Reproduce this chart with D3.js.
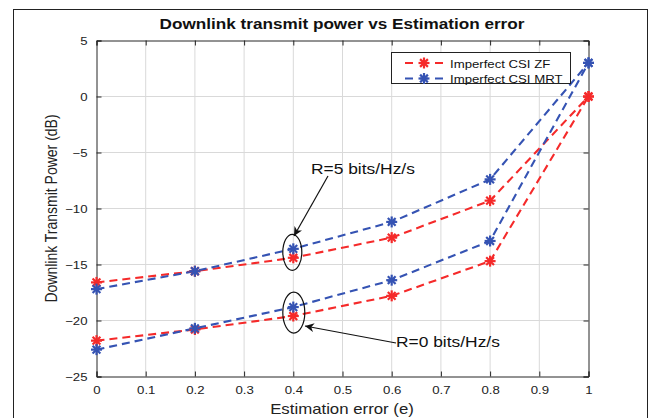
<!DOCTYPE html>
<html>
<head>
<meta charset="utf-8">
<script src="https://cdn.jsdelivr.net/npm/d3@7"></script>
<style>
  body { margin: 0; background: #fff; }
  svg { font-family: "Liberation Sans", Arial, sans-serif; }
</style>
</head>
<body>
<div id="chart"></div>
<script>
// data
const errors = [0, 0.2, 0.4, 0.6, 0.8, 1]
const zfHigh = [-16.6, -15.6, -14.4, -12.6, -9.3, 0]
const mrtHigh = [-17.2, -15.6, -13.6, -11.2, -7.4, 3]
const zfLow = [-21.8, -20.8, -19.6, -17.8, -14.7, 0]
const mrtLow = [-22.6, -20.7, -18.8, -16.4, -12.9, 3]
const xTicks = [0, 0.1, 0.2, 0.3, 0.4, 0.5, 0.6, 0.7, 0.8, 0.9, 1]
const yTicks = [5, 0, -5, -10, -15, -20, -25]

const red = "#f52a2a"
const blue = "#3553b3"
// the source picture is a bit wider than tall, text looks stretched sideways
const sx = 1.2

const width = 650, height = 418
const svg = d3.select("#chart").append("svg").attr("width", width).attr("height", height)

// outer figure frame
svg.append("rect").attr("x", 13.5).attr("y", 9.5).attr("width", 634).attr("height", 430)
  .attr("fill", "none").attr("stroke", "#222").attr("stroke-width", 1)

const x = d3.scaleLinear().domain([0, 1]).range([96.5, 588.5])
const y = d3.scaleLinear().domain([-25, 5]).range([376.5, 40.5])

// grid
const grid = svg.append("g").attr("stroke", "#d9d9d9").attr("stroke-width", 1)
grid.selectAll(".gx").data(xTicks.slice(1, -1)).join("line")
  .attr("x1", d => x(d)).attr("x2", d => x(d)).attr("y1", y(5)).attr("y2", y(-25))
grid.selectAll(".gy").data(yTicks.slice(1, -1)).join("line")
  .attr("y1", d => y(d)).attr("y2", d => y(d)).attr("x1", x(0)).attr("x2", x(1))

// axes, ticks inside like matlab
const axisColor = "#262626"
svg.append("g").attr("transform", `translate(0,${y(-25)})`)
  .call(d3.axisBottom(x).tickValues(xTicks).tickSize(-5).tickPadding(10).tickFormat(d => d3.format("~g")(d)))
svg.append("g").attr("transform", `translate(0,${y(5)})`)
  .call(d3.axisTop(x).tickValues(xTicks).tickSize(-5).tickFormat(""))
svg.append("g").attr("transform", `translate(${x(0)},0)`)
  .call(d3.axisLeft(y).tickValues(yTicks).tickSize(-5).tickPadding(7.5))
svg.append("g").attr("transform", `translate(${x(1)},0)`)
  .call(d3.axisRight(y).tickValues(yTicks).tickSize(-5).tickFormat(""))
svg.selectAll(".domain, .tick line").attr("stroke", axisColor)
svg.selectAll(".tick text").attr("fill", "#222").style("font-size", "11px")
  .attr("transform", `scale(${sx},1)`)

// series
const series = [
  { vals: zfHigh, color: red },
  { vals: mrtHigh, color: blue },
  { vals: zfLow, color: red },
  { vals: mrtLow, color: blue }
]
const line = d3.line().x((d, i) => x(errors[i])).y(d => y(d))

function star(g, cx, cy, color, r) {
  for (let a = 0; a < 4; a++) {
    const ang = a * Math.PI / 4
    g.append("line")
      .attr("x1", cx - r * Math.cos(ang)).attr("y1", cy - r * Math.sin(ang))
      .attr("x2", cx + r * Math.cos(ang)).attr("y2", cy + r * Math.sin(ang))
      .attr("stroke", color).attr("stroke-width", 2.2)
  }
}

series.forEach(s => {
  svg.append("path").datum(s.vals).attr("d", line)
    .attr("fill", "none").attr("stroke", s.color).attr("stroke-width", 2.1)
    .attr("stroke-dasharray", "8,5")
})
series.forEach(s => {
  s.vals.forEach((v, i) => star(svg, x(errors[i]), y(v), s.color, 5.5))
})

// text helper, stretched sideways
function label(tx, ty, str, size, opts = {}) {
  return svg.append("text")
    .attr("transform", `translate(${tx},${ty}) scale(${sx},1)` + (opts.rotate ? ` rotate(${opts.rotate})` : ""))
    .attr("text-anchor", opts.anchor || "start")
    .style("font-size", size + "px")
    .style("font-weight", opts.bold ? "bold" : null)
    .attr("fill", opts.fill || "#111")
    .text(str)
}

// annotations
svg.append("defs").append("marker").attr("id", "head")
  .attr("viewBox", "0 0 10 10").attr("refX", 10).attr("refY", 5)
  .attr("markerWidth", 9).attr("markerHeight", 9).attr("orient", "auto")
  .attr("markerUnits", "userSpaceOnUse")
  .append("path").attr("d", "M0,0 L10,5 L0,10 L3,5 Z").attr("fill", "#111")

const ann = svg.append("g").attr("fill", "none").attr("stroke", "#111").attr("stroke-width", 1.2)
ann.append("ellipse").attr("cx", x(0.4) - 1).attr("cy", y((zfHigh[2] + mrtHigh[2]) / 2) - 1).attr("rx", 9.5).attr("ry", 18)
ann.append("ellipse").attr("cx", x(0.4) + 0.5).attr("cy", y((zfLow[2] + mrtLow[2]) / 2) + 1).attr("rx", 11).attr("ry", 20.5)
ann.append("line").attr("x1", 328).attr("y1", 176).attr("x2", 294).attr("y2", 236)
  .attr("marker-end", "url(#head)")
ann.append("line").attr("x1", 396).attr("y1", 343).attr("x2", 305).attr("y2", 326)
  .attr("marker-end", "url(#head)")

label(311, 174, "R=5 bits/Hz/s", 14.5)
label(396, 347, "R=0 bits/Hz/s", 14.5)

// legend
const lg = svg.append("g")
lg.append("rect").attr("x", 391.5).attr("y", 52.5).attr("width", 179).attr("height", 31)
  .attr("fill", "#fff").attr("stroke", "#222").attr("stroke-width", 1)
const legendItems = [
  { label: "Imperfect CSI ZF", color: red },
  { label: "Imperfect CSI MRT", color: blue }
]
legendItems.forEach((d, i) => {
  const ly = 63 + i * 15.5
  lg.append("line").attr("x1", 405).attr("x2", 443).attr("y1", ly).attr("y2", ly)
    .attr("stroke", d.color).attr("stroke-width", 2).attr("stroke-dasharray", "8,7")
  star(lg, 424, ly, d.color, 5.5)
  lg.append("text").attr("transform", `translate(450,${ly + 4.5}) scale(${sx},1)`).text(d.label)
    .style("font-size", "11px").attr("fill", "#111")
})

// titles
label(342, 29, "Downlink transmit power vs Estimation error", 14.3, { anchor: "middle", bold: true })
label(342, 414, "Estimation error (e)", 14, { anchor: "middle", fill: "#222" })
label(57, y(-10), "Downlink Transmit Power (dB)", 14, { anchor: "middle", fill: "#222", rotate: -90 })
</script>
</body>
</html>
